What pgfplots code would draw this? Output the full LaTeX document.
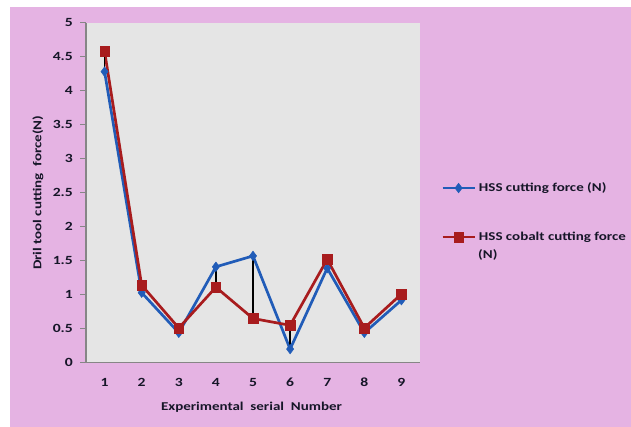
\documentclass[border=0pt]{standalone}
\usepackage{fontspec}
\setmainfont{Carlito}[FakeStretch=1.25]
\usepackage{pgfplots}
\pgfplotsset{compat=1.18}
\usepackage{pgfplotstable}

\definecolor{bgpink}{RGB}{229,179,227}
\definecolor{plotgray}{RGB}{229,229,229}
\definecolor{hssblue}{RGB}{33,92,184}
\definecolor{cobaltred}{RGB}{168,28,30}
\definecolor{axisgray}{RGB}{134,134,134}
\definecolor{labeltext}{RGB}{22,22,40}

% cutting force per experimental run (N)
\pgfplotstableread{
run hss  cobalt
1   4.28 4.58
2   1.03 1.14
3   0.44 0.51
4   1.41 1.11
5   1.57 0.65
6   0.20 0.55
7   1.39 1.52
8   0.44 0.51
9   0.92 1.01
}\forcedata

\begin{document}
\begin{tikzpicture}
\fill[white] (-5pt,-5pt) rectangle (640pt,432pt);
\fill[bgpink] (10pt,-5pt) rectangle (640pt,420pt);
\begin{axis}[
  at={(86pt,64.3pt)}, anchor=south west,
  scale only axis, width=334pt, height=340pt,
  xmin=0.5, xmax=9.5, ymin=0, ymax=5,
  axis background/.style={fill=plotgray},
  axis x line*=bottom, axis y line*=left,
  axis line style={axisgray, line width=1.2pt},
  xtick={1,...,9}, ytick={0,0.5,...,5},
  x tick style={draw=none},
  y tick style={axisgray, line width=1pt},
  tick align=outside, major tick length=6pt,
  /pgf/number format/assume math mode=true,
  /pgf/number format/.cd, fixed, precision=1, /pgfplots/.cd,
  ticklabel style={font=\fontsize{12.5}{14}\selectfont\bfseries, text=labeltext},
  yticklabel style={anchor=east, inner sep=0pt, xshift=-7pt},
  xticklabel style={anchor=center, inner sep=0pt, yshift=-14pt},
  xlabel={Experimental~ serial~ Number},
  ylabel={Dril tool cutting~ force(N)},
  label style={font=\fontsize{12}{14}\selectfont\bfseries, text=labeltext},
  xlabel style={at={(axis description cs:0.4955,-0.132)}, anchor=center},
  ylabel style={at={(axis description cs:-0.1437,0.5)}, anchor=center},
  legend style={at={(axis description cs:1.063,0.532)}, anchor=north west,
    draw=none, fill=none, inner sep=0pt, row sep=37pt, column sep=3pt,
    font=\fontsize{12}{14}\selectfont\bfseries, text=labeltext,
    nodes={inner sep=0pt, text height=9pt, text depth=3pt}},
  legend cell align=left,
  legend image code/.code={\draw[mark repeat=2, mark phase=2, #1]
    plot coordinates {(0pt,0pt) (16pt,0pt) (32pt,0pt)};},
]
\addplot[hssblue, line width=2.7pt, mark=diamond*,
  mark options={solid, fill=hssblue, draw=hssblue, line width=0.5pt},
  mark size=4.8pt] table[x=run, y=hss] {\forcedata};
\addlegendentry{HSS cutting force (N)}
\addplot[cobaltred, line width=2.7pt, mark=square*,
  mark options={solid, fill=cobaltred, draw=cobaltred, line width=0.5pt},
  mark size=4.8pt] table[x=run, y=cobalt] {\forcedata};
\addlegendentry{HSS cobalt cutting force}
% high-low lines between the two series
\addplot[black, line width=1.3pt, unbounded coords=jump, forget plot]
  coordinates {
  (1,4.28) (1,4.58) (1,nan)
  (2,1.03) (2,1.14) (2,nan)
  (3,0.44) (3,0.51) (3,nan)
  (4,1.41) (4,1.11) (4,nan)
  (5,1.57) (5,0.65) (5,nan)
  (6,0.20) (6,0.55) (6,nan)
  (7,1.39) (7,1.52) (7,nan)
  (8,0.44) (8,0.51) (8,nan)
  (9,0.92) (9,1.01)
  };
\end{axis}
\node[anchor=west, inner sep=0pt, font=\fontsize{12}{14}\selectfont\bfseries,
  text=labeltext] at (478pt,172pt) {(N)};
\pgfresetboundingbox
\useasboundingbox (0pt,0pt) rectangle (631pt,427pt);
\end{tikzpicture}
\end{document}
